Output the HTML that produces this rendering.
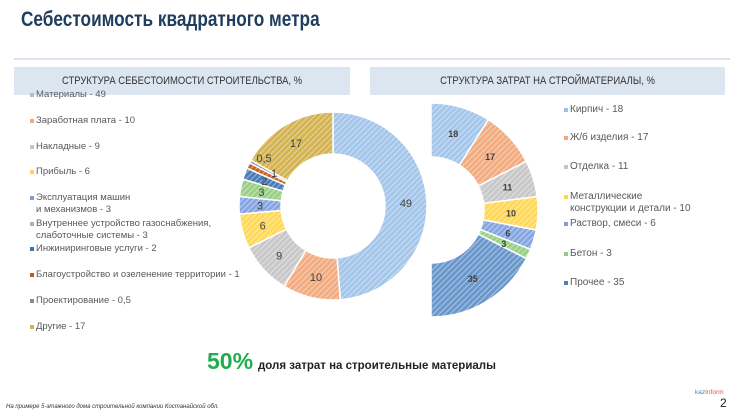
<!DOCTYPE html>
<html><head><meta charset="utf-8"><style>
body{margin:0;background:#fff;font-family:"Liberation Sans",sans-serif;}
#c{position:relative;width:740px;height:416px;overflow:hidden;background:#fff}
.t{position:absolute;white-space:nowrap}
.lg{position:absolute;font-size:9.5px;color:#595959;line-height:12px}
.lg i{position:absolute;left:-6px;top:4px;width:4px;height:4px}
</style></head><body><div id="c">
<div class="t" style="left:21px;top:8px;font-size:21px;font-weight:bold;color:#203d5e;transform:scaleX(0.82);transform-origin:0 0">Себестоимость квадратного метра</div>
<div style="position:absolute;left:14px;top:58px;width:716px;height:2px;background:#dbe4ee"></div>
<div class="t" style="left:14px;top:67px;width:336px;height:28px;background:#dce6f1;"><div style="font-size:11px;color:#333;text-align:center;line-height:28px;transform:scaleX(0.86)">СТРУКТУРА СЕБЕСТОИМОСТИ СТРОИТЕЛЬСТВА, %</div></div>
<div class="t" style="left:370px;top:67px;width:355px;height:28px;background:#dce6f1;"><div style="font-size:11px;color:#333;text-align:center;line-height:28px;transform:scaleX(0.86)">СТРУКТУРА ЗАТРАТ НА СТРОЙМАТЕРИАЛЫ, %</div></div>
<svg id="s" width="740" height="416" style="position:absolute;left:0;top:0"></svg>
<div id="L"></div>
<div class="t" style="left:207px;top:348px;font-size:23px;font-weight:bold;color:#1fae4f">50%</div>
<div class="t" style="left:258px;top:360px;font-size:11.5px;font-weight:bold;color:#222">доля затрат на строительные материалы</div>
<div class="t" style="left:6px;top:404px;font-size:6px;font-style:italic;color:#333">На примере 5-этажного дома строительной компании Костанайской обл.</div>
<div class="t" style="left:695px;top:389px;font-size:6.5px;color:#4a7bbf">kaz<span style="color:#e05050">Inform</span></div>
<div class="t" style="left:720px;top:396px;font-size:12px;color:#222">2</div>
</div>
<script>
var s=document.getElementById('s'),h='',tx='';
var defs='';
function pat(id,c){defs+='<pattern id="'+id+'" width="4" height="4" patternUnits="userSpaceOnUse" patternTransform="rotate(45)"><rect width="4" height="4" fill="'+c+'"/><rect width="1" height="4" fill="#fff" fill-opacity="0.45"/></pattern>';}
function donut(cx,cy,R,r,vals,cols,tot,span,lbl,bold){
 var a=-90;
 vals.forEach(function(v,i){
  var d=v/tot*span,a1=a*Math.PI/180,a2=(a+d)*Math.PI/180,lg=d>180?1:0;
  var id='p'+cx+'_'+i;pat(id,cols[i]);
  var p='M'+(cx+R*Math.cos(a1))+' '+(cy+R*Math.sin(a1))+'A'+R+' '+R+' 0 '+lg+' 1 '+(cx+R*Math.cos(a2))+' '+(cy+R*Math.sin(a2))+'L'+(cx+r*Math.cos(a2))+' '+(cy+r*Math.sin(a2))+'A'+r+' '+r+' 0 '+lg+' 0 '+(cx+r*Math.cos(a1))+' '+(cy+r*Math.sin(a1))+'Z';
  h+='<path d="'+p+'" fill="url(#'+id+')" stroke="#fff" stroke-width="1.5"/>';
  var m=(a+d/2)*Math.PI/180,rm=(R+r)/2;
  var x=cx+rm*Math.cos(m),y=cy+rm*Math.sin(m)+4;
  if(lbl[i]=='0,5'){x=264;y=162;}
  if(lbl[i]=='1'&&!bold){x=274;y=177;}
  tx+='<text x="'+x+'" y="'+y+'" text-anchor="middle" font-size="'+(bold?9:11)+'" font-weight="'+(bold?'bold':'normal')+'" fill="#404040" font-family="Liberation Sans">'+lbl[i]+'</text>';
  a+=d;});
}
donut(333,206,94,52,[49,10,9,6,3,3,2,1,0.5,17],['#a4c6ea','#f2ac80','#c8c8c8','#ffd85a','#86a6e2','#9ad084','#4a7cb8','#c86020','#8a8a8a','#d4b452'],100.5,360,['49','10','9','6','3','3','2','1','0,5','17'],false);
donut(431,210,107,53,[18,17,11,10,6,3,35],['#a4c6ea','#f2ac80','#c8c8c8','#ffd85a','#86a6e2','#9ad084','#6a98cc'],100,180,['18','17','11','10','6','3','35'],true);
s.innerHTML='<defs>'+defs+'</defs>'+h+tx;
var L='',it=[[36,89,'#9cc2e8','Материалы - 49'],[36,115,'#f2a878','Заработная плата - 10'],[36,141,'#c4c4c4','Накладные - 9'],[36,166,'#ffd54f','Прибыль - 6'],[36,192,'#7d9fe0','Эксплуатация машин<br>и механизмов  - 3'],[36,218,'#93cc7c','Внутреннее устройство газоснабжения,<br>слаботочные системы - 3'],[36,243,'#3f72b0','Инжиниринговые услуги - 2'],[36,269,'#c55a11','Благоустройство и озеленение территории - 1'],[36,295,'#8a8a8a','Проектирование - 0,5'],[36,321,'#d2b24c','Другие - 17'],
[570,104,'#9cc2e8','Кирпич - 18'],[570,132,'#f2a878','Ж/б изделия - 17'],[570,161,'#c4c4c4','Отделка - 11'],[570,191,'#ffd54f','Металлические<br>конструкции и детали - 10'],[570,218,'#7d9fe0','Раствор, смеси - 6'],[570,248,'#93cc7c','Бетон - 3'],[570,277,'#4a7fb8','Прочее - 35']];
it.forEach(function(e){L+='<div class="lg" style="left:'+e[0]+'px;top:'+e[1]+'px;'+(e[0]>500?'font-size:10px':'')+'"><i style="background:'+e[2]+'"></i>'+e[3]+'</div>';});
document.getElementById('L').innerHTML=L;
</script>
</body></html>
